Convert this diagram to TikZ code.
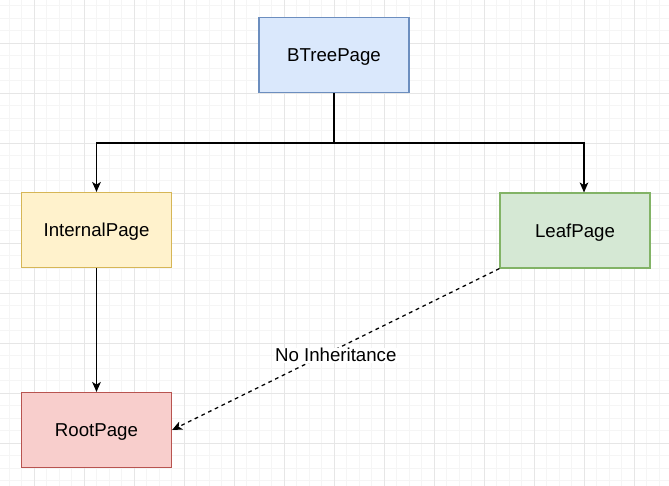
\documentclass[tikz,border=0pt]{standalone}
\usepackage{fontspec}
\setmainfont{Liberation Sans}
\usetikzlibrary{arrows.meta}
\definecolor{gridminor}{HTML}{F5F5F5}
\definecolor{gridmajor}{HTML}{E6E6E6}
\definecolor{bfill}{HTML}{DAE8FC}\definecolor{bline}{HTML}{6C8EBF}
\definecolor{yfill}{HTML}{FFF2CC}\definecolor{yline}{HTML}{D6B656}
\definecolor{gfill}{HTML}{D5E8D4}\definecolor{gline}{HTML}{82B366}
\definecolor{rfill}{HTML}{F8CECC}\definecolor{rline}{HTML}{B85450}
\tikzset{
  pagebox/.style={rectangle, draw, line width=0.85pt, minimum width=112.5pt, minimum height=56.25pt, inner sep=0pt, text depth=0pt, font=\fontsize{14}{16}\selectfont},
  conn/.style={line width=0.95pt, -{Stealth[length=7.5pt,width=6.5pt,inset=2pt]}},
  plainconn/.style={line width=0.95pt},
  dashconn/.style={line width=0.95pt, dash pattern=on 2.8pt off 2.8pt, -{Stealth[length=7.5pt,width=6.5pt,inset=2pt]}},
  lbl/.style={fill=white, inner sep=0.5pt, font=\fontsize{14}{16}\selectfont}
}
\begin{document}
\begin{tikzpicture}[x=0.75pt,y=-0.75pt]
\useasboundingbox (0,0) rectangle (669,486);
\fill[white] (0,0) rectangle (669,486);
% grid
\foreach \i in {0,...,53} {\draw[gridminor, line width=0.6pt] ({9+12.5*\i},0) -- ({9+12.5*\i},486);}
\foreach \i in {0,...,39} {\draw[gridminor, line width=0.6pt] (0,{5.5+12.5*\i}) -- (669,{5.5+12.5*\i});}
\foreach \i in {0,...,13} {\draw[gridmajor, line width=0.75pt] ({34+50*\i},0) -- ({34+50*\i},486);}
\foreach \i in {0,...,9} {\draw[gridmajor, line width=0.75pt] (0,{43+50*\i}) -- (669,{43+50*\i});}
% nodes
\node[pagebox, fill=bfill, draw=bline] (bt) at (334,55) {BTreePage};
\node[pagebox, fill=yfill, draw=yline] (ip) at (96.5,230) {InternalPage};
\node[pagebox, fill=gfill, draw=gline] (lf) at (575,230.5) {LeafPage};
\node[pagebox, fill=rfill, draw=rline] (rp) at (96.5,430) {RootPage};
\coordinate (j) at (334,143);
% connectors
\draw[plainconn] (bt.south) -- (j);
\draw[conn] (j) -| (ip.north);
\draw[conn] (j) -| ([xshift=6.75pt]lf.north);
\draw[conn] (ip.south) -- (rp.north);
\draw[dashconn] (lf.south west) -- (rp.east) node[lbl, pos=0.5, yshift=-4.5pt] (nl) {No Inheritance};
\end{tikzpicture}
\end{document}
